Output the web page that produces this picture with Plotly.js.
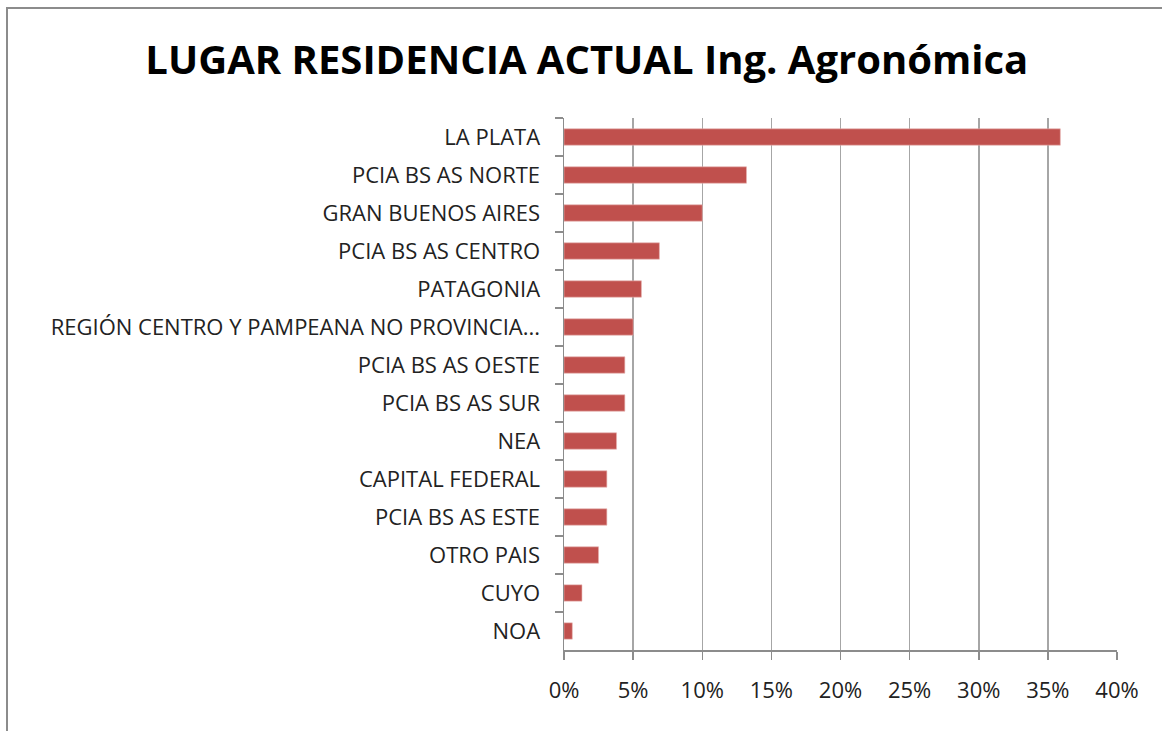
<!DOCTYPE html>
<html>
<head>
<meta charset="utf-8">
<script src="https://cdn.plot.ly/plotly-3.0.1.min.js"></script>
<style>
  html, body { margin: 0; padding: 0; background: #fff; overflow: hidden; }
  #wrap { position: relative; width: 1162px; height: 731px; }
  #chart { position: absolute; left: 0; top: 0; width: 1162px; height: 731px; }
  #frame { position: absolute; left: 6px; top: 7px; width: 1200px; height: 800px;
           border-left: 2px solid #8c8c8c; border-top: 2px solid #8c8c8c; pointer-events: none; }
</style>
</head>
<body>
<div id="wrap">
  <div id="chart"></div>
  <div id="frame"></div>
</div>
<script>
const categories = [
  "LA PLATA",
  "PCIA BS AS NORTE",
  "GRAN BUENOS AIRES",
  "PCIA BS AS CENTRO",
  "PATAGONIA",
  "REGIÓN CENTRO Y PAMPEANA NO PROVINCIA...",
  "PCIA BS AS OESTE",
  "PCIA BS AS SUR",
  "NEA",
  "CAPITAL FEDERAL",
  "PCIA BS AS ESTE",
  "OTRO PAIS",
  "CUYO",
  "NOA"
];
const values = [0.359, 0.132, 0.100, 0.069, 0.056, 0.050, 0.044, 0.044, 0.038, 0.031, 0.031, 0.025, 0.013, 0.006];
const xTickVals = [0, 0.05, 0.10, 0.15, 0.20, 0.25, 0.30, 0.35, 0.40];
const xTickText = ["0%", "5%", "10%", "15%", "20%", "25%", "30%", "35%", "40%"];
const chartTitle = "LUGAR RESIDENCIA ACTUAL Ing. Agronómica";

const trace = {
  type: "bar",
  orientation: "h",
  x: values,
  y: categories,
  marker: { color: "#C0504D", line: { color: "#E8B5B4", width: 0.6 } },
  hoverinfo: "x+y"
};

const layout = {
  width: 1162,
  height: 731,
  paper_bgcolor: "rgba(0,0,0,0)",
  plot_bgcolor: "#ffffff",
  margin: { l: 564, r: 45, t: 118, b: 81 },
  bargap: 0.57,
  showlegend: false,
  title: {
    text: "<b>" + chartTitle + "</b>",
    font: { family: "Open Sans, Noto Sans, sans-serif", size: 40, color: "#000" },
    x: 0.505, xanchor: "center",
    y: 0.918, yanchor: "middle", yref: "container"
  },
  xaxis: {
    range: [0, 0.40],
    tickvals: xTickVals,
    ticktext: xTickText,
    showgrid: true,
    gridcolor: "#a6a6a6",
    gridwidth: 1.5,
    zeroline: false,
    showline: true,
    linecolor: "#8c8c8c",
    linewidth: 1.5,
    ticks: "outside",
    ticklen: 8,
    tickcolor: "#8c8c8c",
    tickwidth: 1.5,
    ticklabelstandoff: 12,
    tickfont: { family: "Open Sans, Noto Sans, sans-serif", size: 22, color: "#222" },
    fixedrange: true
  },
  yaxis: {
    type: "category",
    autorange: "reversed",
    showgrid: false,
    zeroline: false,
    showline: true,
    linecolor: "#8c8c8c",
    linewidth: 1.5,
    ticks: "outside",
    tickson: "boundaries",
    ticklen: 8,
    tickcolor: "#8c8c8c",
    tickwidth: 1.5,
    ticklabelstandoff: 18,
    tickfont: { family: "Open Sans, Noto Sans, sans-serif", size: 22, color: "#222" },
    fixedrange: true
  }
};

Plotly.newPlot("chart", [trace], layout, { displayModeBar: false, staticPlot: true });
</script>
</body>
</html>
